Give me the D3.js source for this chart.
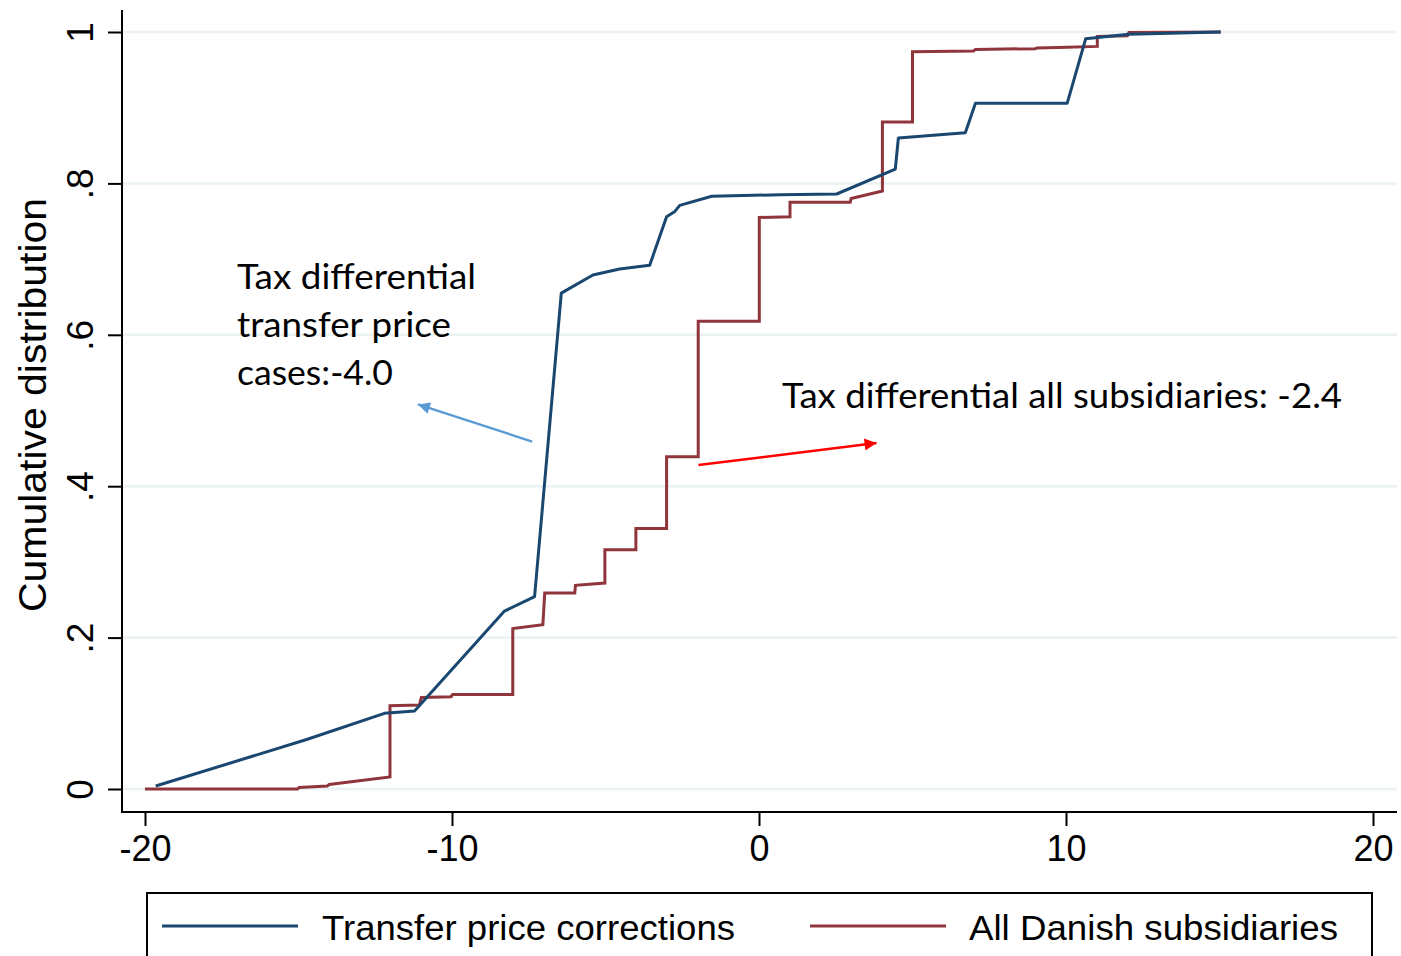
<!DOCTYPE html>
<html><head><meta charset="utf-8">
<script src="https://cdn.jsdelivr.net/npm/d3@7"></script>
<style>html,body{margin:0;padding:0;background:#fff;}svg{display:block;}</style>
</head><body><svg id="c" width="1401" height="956"></svg>
<script>
// ---- data ----
const seriesNames = ["Transfer price corrections", "All Danish subsidiaries"];
const transferX = [-19.65,-14.76,-12.20,-11.22,-8.29,-7.31,-6.44,-5.41,-4.54,-3.56,-3.01,-2.74,-2.58,-1.54,0.69,2.53,4.44,4.54,6.72,7.05,10.04,10.64,12.04,15.04];
const transferY = [0.004,0.065,0.100,0.103,0.235,0.254,0.655,0.679,0.687,0.692,0.756,0.763,0.771,0.783,0.785,0.786,0.819,0.860,0.867,0.906,0.906,0.991,0.997,1.0];
const allX = [-20,-15.03,-14.98,-14.06,-14.0,-12.02,-12.02,-11.06,-11.0,-10.03,-9.98,-8.02,-8.02,-7.04,-6.98,-6.0,-5.98,-5.02,-5.02,-4.01,-4.01,-3.01,-3.01,-1.98,-1.98,0.01,0.01,1.01,1.01,2.97,3.0,4.02,4.02,5.0,5.0,6.99,7.05,9.0,9.06,10.04,11.02,11.02,12.0,12.05,15.04];
const allY = [0,0,0.002,0.004,0.006,0.016,0.110,0.111,0.121,0.122,0.125,0.125,0.212,0.217,0.259,0.259,0.269,0.272,0.316,0.316,0.344,0.344,0.439,0.439,0.618,0.618,0.755,0.756,0.775,0.775,0.780,0.790,0.881,0.881,0.974,0.975,0.977,0.978,0.979,0.980,0.981,0.994,0.995,0.9995,1.0];
const xTicks = [-20,-10,0,10,20];
const xTickLabels = ["-20","-10","0","10","20"];
const yTicks = [0,0.2,0.4,0.6,0.8,1];
const yTickLabels = ["0",".2",".4",".6",".8","1"];
const yTitle = "Cumulative distribution";
const noteTP = ["Tax differential","transfer price","cases:-4.0"];
const noteAll = "Tax differential all subsidiaries: -2.4";
// arrows in data coordinates [x0,y0,x1,y1]
const arrowTP = [-7.39, 0.459, -11.11, 0.508];
const arrowAll = [-1.97, 0.428, 3.83, 0.457];

// ---- layout ----
const svg = d3.select("#c");
const x = d3.scaleLinear().domain([-20,20]).range([145,1373]);
const y = d3.scaleLinear().domain([0,1]).range([789,32]);
const axisFont = "'Liberation Sans', Arial, sans-serif";
const noteFont = "Lato, 'Open Sans', sans-serif";
const blue = "#1a476f", red = "#90353b";

// gridlines
svg.append("g").selectAll("line").data(yTicks).join("line")
  .attr("x1",123).attr("x2",1397).attr("y1",d=>y(d)).attr("y2",d=>y(d))
  .attr("stroke","#eaf2f3").attr("stroke-width",2.5);

// axes
const yAxis = d3.axisLeft(y).tickValues(yTicks).tickSize(14).tickFormat((d,i)=>yTickLabels[i]);
const gy = svg.append("g").attr("transform","translate(122,0)").call(yAxis);
gy.select(".domain").remove();
gy.selectAll(".tick line").attr("stroke","#000").attr("stroke-width",2);
gy.selectAll(".tick text").attr("font-family",axisFont).attr("font-size",37).attr("fill","#000")
  .attr("text-anchor","middle").attr("x",0).attr("dy",0)
  .attr("transform","translate(-29,0) rotate(-90)");

const xAxis = d3.axisBottom(x).tickValues(xTicks).tickSize(14).tickFormat((d,i)=>xTickLabels[i]);
const gx = svg.append("g").attr("transform","translate(0,812)").call(xAxis);
gx.select(".domain").remove();
gx.selectAll(".tick line").attr("stroke","#000").attr("stroke-width",2);
gx.selectAll(".tick text").attr("font-family",axisFont).attr("font-size",36).attr("fill","#000")
  .attr("y",49).attr("dy",0);

svg.append("line").attr("x1",122).attr("x2",122).attr("y1",10).attr("y2",813).attr("stroke","#000").attr("stroke-width",2);
svg.append("line").attr("x1",121).attr("x2",1397).attr("y1",812).attr("y2",812).attr("stroke","#000").attr("stroke-width",2);

svg.append("text").text(yTitle).attr("font-family",axisFont).attr("font-size",39)
  .attr("text-anchor","middle").attr("textLength",414).attr("lengthAdjust","spacingAndGlyphs")
  .attr("transform","translate(46,405) rotate(-90)");

// lines
const line = d3.line().x(d=>x(d[0])).y(d=>y(d[1]));
svg.append("path").datum(allX.map((v,i)=>[v,allY[i]])).attr("d",line)
  .attr("fill","none").attr("stroke",red).attr("stroke-width",3).attr("stroke-linejoin","miter");
svg.append("path").datum(transferX.map((v,i)=>[v,transferY[i]])).attr("d",line)
  .attr("fill","none").attr("stroke",blue).attr("stroke-width",3).attr("stroke-linejoin","round");

// annotations
const defs = svg.append("defs");
function marker(id,col){
  defs.append("marker").attr("id",id).attr("viewBox","0 0 10 10").attr("refX",10).attr("refY",5)
    .attr("markerWidth",16).attr("markerHeight",12).attr("markerUnits","userSpaceOnUse").attr("orient","auto")
    .append("path").attr("d","M0,0 L10,5 L0,10 Z").attr("fill",col);
}
marker("mb","#5b9bd5"); marker("mr","#ff0000");
svg.append("line").attr("x1",x(arrowTP[0])).attr("y1",y(arrowTP[1])).attr("x2",x(arrowTP[2])).attr("y2",y(arrowTP[3]))
  .attr("stroke","#5b9bd5").attr("stroke-width",2.4).attr("marker-end","url(#mb)");
svg.append("line").attr("x1",x(arrowAll[0])).attr("y1",y(arrowAll[1])).attr("x2",x(arrowAll[2])).attr("y2",y(arrowAll[3]))
  .attr("stroke","#ff0000").attr("stroke-width",2.4).attr("marker-end","url(#mr)");

const noteW = [239,214,156];
noteTP.forEach((t,i)=>{
  svg.append("text").text(t).attr("x",237).attr("y",289+i*48).attr("font-family",noteFont)
    .attr("font-size",34).attr("textLength",noteW[i]).attr("lengthAdjust","spacingAndGlyphs");
});
svg.append("text").text(noteAll).attr("x",782).attr("y",408).attr("font-family",noteFont)
  .attr("font-size",34).attr("textLength",560).attr("lengthAdjust","spacingAndGlyphs");

// legend
svg.append("rect").attr("x",147).attr("y",893).attr("width",1225).attr("height",80)
  .attr("fill","#fff").attr("stroke","#000").attr("stroke-width",2);
const legX = [162, 810], legTX = [322, 969], legTW = [413, 369], legCols=[blue,red];
seriesNames.forEach((n,i)=>{
  svg.append("line").attr("x1",legX[i]).attr("x2",legX[i]+136).attr("y1",926).attr("y2",926)
    .attr("stroke",legCols[i]).attr("stroke-width",3);
  svg.append("text").text(n).attr("x",legTX[i]).attr("y",940).attr("font-family",axisFont)
    .attr("font-size",35).attr("textLength",legTW[i]).attr("lengthAdjust","spacingAndGlyphs");
});
</script></body></html>
